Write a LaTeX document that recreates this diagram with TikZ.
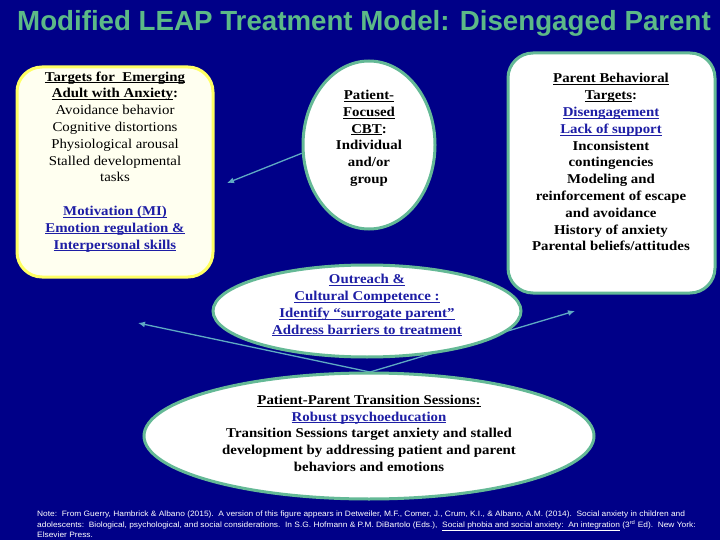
\documentclass[tikz,border=0pt]{standalone}
\usepackage{fontspec}
\setmainfont{Liberation Serif}[FakeStretch=1.1]
\newfontfamily\titlefont{Liberation Sans}
\newfontfamily\notefont{Liberation Sans}[FakeStretch=1.08]
\usetikzlibrary{shapes.geometric,arrows.meta}
\definecolor{navy}{RGB}{0,0,136}
\definecolor{tealb}{RGB}{100,185,150}
\definecolor{titlegreen}{RGB}{92,185,135}
\definecolor{linkblue}{RGB}{30,30,165}
\definecolor{conn}{RGB}{95,170,195}
\definecolor{boxyellow}{RGB}{255,255,100}
\definecolor{cream}{RGB}{255,255,240}
\newcommand\myul[1]{\underline{\smash{#1}}}
\newcommand\lk[1]{\textcolor{linkblue}{\myul{#1}}}
\begin{document}
\begin{tikzpicture}[x=1pt,y=-1pt,
  txt/.style={align=center,font=\fontsize{13.5}{16.8}\selectfont,inner sep=0pt,text=black},
  shapebox/.style={draw=tealb,line width=3pt,fill=white,rounded corners=25pt,inner sep=0pt},
  yelbox/.style={draw=boxyellow,line width=3pt,fill=cream,rounded corners=25pt,inner sep=0pt},
  ell/.style={ellipse,draw=tealb,line width=3pt,fill=white,inner sep=0pt},
  connline/.style={draw=conn,line width=1.3pt},
  connarrow/.style={connline,-{Latex[length=7pt,width=6pt]}},
  note/.style={font=\notefont\fontsize{7.75}{9}\selectfont,text=white,inner sep=0pt,anchor=base west}]
\useasboundingbox (0,0) rectangle (720,540);
\fill[navy] (0,0) rectangle (720,540);

% title
\node[font=\titlefont\bfseries\fontsize{27.7}{30}\selectfont,text=titlegreen,anchor=base,inner sep=0pt] (title) at (364,31) {Modified LEAP Treatment Model: Disengaged Parent};

% V-shaped connectors (behind ellipses)
\coordinate (vleft) at (138,323);
\coordinate (vapex) at (370,372);
\coordinate (vright) at (575,311);
\draw[connarrow] (vapex) -- (vleft);
\draw[connarrow] (vapex) -- (vright);

% left box
\node[yelbox,minimum width=196pt,minimum height=210pt] (lbox) at (115,172) {};
\node[txt] (ltext) at (115,166) {\textbf{\myul{Targets for\ \ Emerging}}\\
\textbf{\myul{Adult with Anxiety}:}\\
Avoidance behavior\\
Cognitive distortions\\
Physiological arousal\\
Stalled developmental\\
tasks\\
\mbox{}\\
\textbf{\lk{Motivation (MI)}}\\
\textbf{\lk{Emotion regulation \&}}\\
\textbf{\lk{Interpersonal skills}}};

% CBT ellipse
\node[ell,minimum width=132pt,minimum height=168pt] (cbt) at (369,145) {};
\node[txt,font=\bfseries\fontsize{13.5}{16.8}\selectfont] (cbttext) at (369,143) {\myul{Patient-}\\
\myul{Focused}\\
\myul{CBT}:\\
Individual\\
and/or\\
group};
\coordinate (cbtend) at (227,183);
\draw[connarrow] (cbt.187) -- (cbtend);

% right box
\node[shapebox,minimum width=207pt,minimum height=240pt] (rbox) at (611.5,173) {};
\node[txt,font=\bfseries\fontsize{13.5}{16.8}\selectfont] (rtext) at (611,167) {\myul{Parent Behavioral}\\
\myul{Targets}:\\
\lk{Disengagement}\\
\lk{Lack of support}\\
Inconsistent\\
contingencies\\
Modeling and\\
reinforcement of escape\\
and avoidance\\
History of anxiety\\
Parental beliefs/attitudes};

% outreach ellipse
\node[ell,minimum width=308pt,minimum height=92pt] (outreach) at (367,311) {};
\node[txt,font=\bfseries\fontsize{13.5}{16.8}\selectfont] (otext) at (367,310) {\lk{Outreach \&}\\
\lk{Cultural Competence :}\\
\lk{Identify “surrogate parent”}\\
\lk{Address barriers to treatment}};

% bottom ellipse
\node[ell,minimum width=450pt,minimum height=126pt] (trans) at (369,436) {};
\node[txt,font=\bfseries\fontsize{13.5}{16.8}\selectfont] (ttext) at (369,438) {\myul{Patient-Parent Transition Sessions:}\\
\lk{Robust psychoeducation}\\
Transition Sessions target anxiety and stalled\\
development by addressing patient and parent\\
behaviors and emotions};

% footnote
\node[note] (note1) at (37,516) {Note:\ \ From Guerry, Hambrick \& Albano (2015).\ \ A version of this figure appears in Detweiler, M.F., Comer, J., Crum, K.I., \& Albano, A.M. (2014).\ \ Social anxiety in children and};
\node[note] (note2) at (37,527) {adolescents:\ \ Biological, psychological, and social considerations.\ \ In S.G. Hofmann \& P.M. DiBartolo (Eds.),\ \ \underline{Social phobia and social anxiety:\ \ An integration} (3\textsuperscript{rd} Ed).\ \ New York:};
\node[note] (note3) at (37,537) {Elsevier Press.};
\end{tikzpicture}
\end{document}
